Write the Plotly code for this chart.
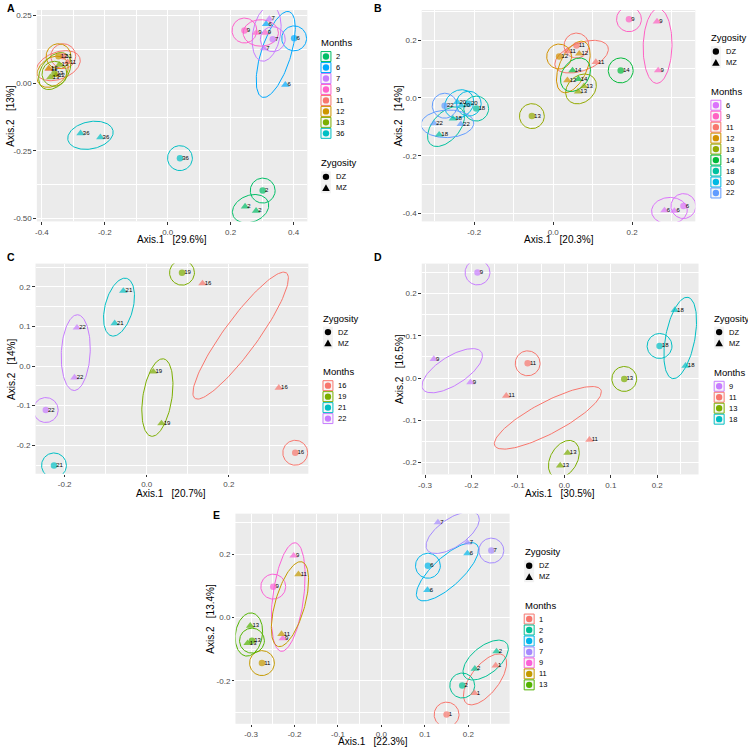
import numpy as np
import plotly.graph_objects as go

W, H = 748, 750
FONT = "Liberation Sans, Arial, sans-serif"

# ---------------- data ----------------
ZYG3 = ["DZ", "MZ", "MZ"]

# Panel A
A_month = ["2"]*3 + ["6"]*3 + ["7"]*3 + ["9"]*3 + ["11"]*3 + ["12"]*3 + ["13"]*3 + ["36"]*3
A_zyg = ZYG3 * 8
A_x = [0.302, 0.246, 0.281,   0.402, 0.313, 0.374,   0.334, 0.323, 0.306,   0.244, 0.281, 0.311,
       -0.332, -0.318, -0.378, -0.347, -0.378, -0.355, -0.360, -0.373, -0.345, 0.039, -0.277, -0.214]
A_y = [-0.397, -0.456, -0.472, 0.166, 0.219, -0.006, 0.163, 0.238, 0.129, 0.195, 0.186, 0.186,
       0.100, 0.078, 0.052,    0.100, 0.055, 0.030,    0.035, 0.022, 0.068,    -0.277, -0.185, -0.200]
A_levels = ["2", "6", "7", "9", "11", "12", "13", "36"]
A_colors = ["#00BE67", "#00A9FF", "#C77CFF", "#FF61CC", "#F8766D", "#CD9600", "#7CAE00", "#00BFC4"]

# Panel B
B_month = ["6"]*3 + ["9"]*3 + ["11"]*3 + ["12"]*3 + ["13"]*3 + ["14"]*3 + ["18"]*3 + ["20"]*3 + ["22"]*3
B_zyg = ZYG3 * 9
B_x = [0.330, 0.282, 0.307,   0.192, 0.263, 0.266,   0.059, 0.036, 0.108,   0.015, 0.066, 0.036,
       -0.054, 0.078, 0.063,  0.171, 0.049, 0.064,   -0.195, -0.254, -0.289, -0.214, -0.243, -0.233,
       -0.275, -0.302, -0.234]
B_y = [-0.374, -0.389, -0.391, 0.272, 0.264, 0.095,  0.181, 0.161, 0.124,   0.143, 0.153, 0.061,
       -0.063, 0.040, 0.022,   0.095, 0.095, 0.065,   -0.037, -0.072, -0.127, -0.020, -0.015, -0.027,
       -0.027, -0.088, -0.091]
B_levels = ["6", "9", "11", "12", "13", "14", "18", "20", "22"]
B_colors = ["#DB72FB", "#FF61C3", "#F8766D", "#D39200", "#93AA00", "#00BA38", "#00C19F", "#00B9E3", "#619CFF"]

# Panel C
C_month = ["16"]*3 + ["19"]*3 + ["21"]*3 + ["22"]*3
C_zyg = ZYG3 * 4
C_x = [0.362, 0.136, 0.322,   0.086, 0.016, 0.036,   -0.226, -0.057, -0.078,  -0.246, -0.170, -0.176]
C_y = [-0.219, 0.209, -0.055, 0.236, -0.014, -0.145, -0.251, 0.190, 0.108,   -0.111, 0.097, -0.029]
C_levels = ["16", "19", "21", "22"]
C_colors = ["#F8766D", "#7CAE00", "#00BFC4", "#C77CFF"]

# Panel D
D_month = ["9"]*3 + ["11"]*3 + ["13"]*3 + ["18"]*3
D_zyg = ZYG3 * 4
D_x = [-0.187, -0.281, -0.202, -0.079, -0.125, 0.054,  0.129, 0.007, -0.009,   0.205, 0.238, 0.261]
D_y = [0.250, 0.045, -0.010,   0.035, -0.042, -0.146,  -0.002, -0.177, -0.207, 0.076, 0.161, 0.029]
D_levels = ["9", "11", "13", "18"]
D_colors = ["#C77CFF", "#F8766D", "#7CAE00", "#00BFC4"]

# Panel E
E_month = ["1"]*3 + ["2"]*3 + ["6"]*3 + ["7"]*3 + ["9"]*3 + ["11"]*3 + ["13"]*3
E_zyg = ZYG3 * 7
E_x = [0.150, 0.263, 0.214,   0.186, 0.265, 0.215,   0.107, 0.198, 0.106,   0.253, 0.130, 0.198,
       -0.249, -0.202, -0.227, -0.275, -0.191, -0.230, -0.298, -0.302, -0.308]
E_y = [-0.307, -0.152, -0.239, -0.215, -0.107, -0.162, 0.164, 0.203, 0.087,  0.212, 0.301, 0.237,
       0.098, 0.196, -0.066,   -0.144, 0.137, -0.052,  -0.073, -0.026, -0.081]
E_levels = ["1", "2", "6", "7", "9", "11", "13"]
E_colors = ["#F8766D", "#00C094", "#00B6EB", "#A58AFF", "#FB61D7", "#C49A00", "#53B400"]

# tick labels
A_xt = [-0.4, -0.2, 0.0, 0.2, 0.4];  A_xl = ["-0.4", "-0.2", "0.0", "0.2", "0.4"]
A_yt = [0.25, 0.0, -0.25, -0.5];     A_yl = ["0.25", "0.00", "-0.25", "-0.50"]
B_xt = [-0.2, 0.0, 0.2];             B_xl = ["-0.2", "0.0", "0.2"]
B_yt = [0.2, 0.0, -0.2, -0.4];       B_yl = ["0.2", "0.0", "-0.2", "-0.4"]
C_xt = [-0.2, 0.0, 0.2];             C_xl = ["-0.2", "0.0", "0.2"]
C_yt = [0.2, 0.1, 0.0, -0.1, -0.2];  C_yl = ["0.2", "0.1", "0.0", "-0.1", "-0.2"]
D_xt = [-0.3, -0.2, -0.1, 0.0, 0.1, 0.2]; D_xl = ["-0.3", "-0.2", "-0.1", "0.0", "0.1", "0.2"]
D_yt = [0.2, 0.1, 0.0, -0.1, -0.2];  D_yl = ["0.2", "0.1", "0.0", "-0.1", "-0.2"]
E_xt = [-0.3, -0.2, -0.1, 0.0, 0.1, 0.2]; E_xl = ["-0.3", "-0.2", "-0.1", "0.0", "0.1", "0.2"]
E_yt = [0.2, 0.0, -0.2];             E_yl = ["0.2", "0.0", "-0.2"]

A_var = ["29.6%", "13%"]
B_var = ["20.3%", "14%"]
C_var = ["20.7%", "14%"]
D_var = ["30.5%", "16.5%"]
E_var = ["22.3%", "13.4%"]

# ---------------- layout of panels (pixels) ----------------
panels = [
    dict(tag="A", month=A_month, zyg=A_zyg, x=A_x, y=A_y, levels=A_levels, colors=A_colors,
         box=(33, 305, 10, 222), xr=(-0.416, 0.444), yr=(-0.511, 0.271),
         xt=A_xt, xl=A_xl, yt=A_yt, yl=A_yl, var=A_var,
         letter=(1, 8), xtitle=(169, 240.5), ytitle=(7, 116),
         leg_x=318, order=[("Months", 42.7), ("Zygosity", 163.3)]),
    dict(tag="B", month=B_month, zyg=B_zyg, x=B_x, y=B_y, levels=B_levels, colors=B_colors,
         box=(420, 695, 10, 222), xr=(-0.333, 0.360), yr=(-0.427, 0.304),
         xt=B_xt, xl=B_xl, yt=B_yt, yl=B_yl, var=B_var,
         letter=(370, 8), xtitle=(558, 240.5), ytitle=(397, 116),
         leg_x=710, order=[("Zygosity", 37.7), ("Months", 91.5)]),
    dict(tag="C", month=C_month, zyg=C_zyg, x=C_x, y=C_y, levels=C_levels, colors=C_colors,
         box=(31.7, 306, 264.3, 475), xr=(-0.271, 0.394), yr=(-0.272, 0.259),
         xt=C_xt, xl=C_xl, yt=C_yt, yl=C_yl, var=C_var,
         letter=(1, 258), xtitle=(168, 494.5), ytitle=(7, 370),
         leg_x=320, order=[("Zygosity", 319), ("Months", 372.7)]),
    dict(tag="D", month=D_month, zyg=D_zyg, x=D_x, y=D_y, levels=D_levels, colors=D_colors,
         box=(420, 698.3, 264.3, 475.7), xr=(-0.307, 0.289), yr=(-0.228, 0.271),
         xt=D_xt, xl=D_xl, yt=D_yt, yl=D_yl, var=D_var,
         letter=(370, 258), xtitle=(559, 494.5), ytitle=(397, 370),
         leg_x=713.3, order=[("Zygosity", 319), ("Months", 373.3)]),
    dict(tag="E", month=E_month, zyg=E_zyg, x=E_x, y=E_y, levels=E_levels, colors=E_colors,
         box=(232.7, 508.3, 515, 725.7), xr=(-0.336, 0.295), yr=(-0.336, 0.329),
         xt=E_xt, xl=E_xl, yt=E_yt, yl=E_yl, var=E_var,
         letter=(208, 516), xtitle=(370.5, 743.5), ytitle=(207.5, 620),
         leg_x=522.3, order=[("Zygosity", 553.3), ("Months", 606.7)]),
]


def px(x):
    return x / W


def py(y):
    return 1 - y / H


def minor_vals(ticks, rng):
    t = sorted(ticks)
    step = t[1] - t[0]
    cands = [t[0] - step / 2] + [(a + b) / 2 for a, b in zip(t[:-1], t[1:])] + [t[-1] + step / 2]
    return [round(v, 4) for v in cands if rng[0] <= v <= rng[1]]


def outline(xs, ys, box, xr, yr):
    sx = (box[1] - box[0]) / (xr[1] - xr[0])
    sy = (box[3] - box[2]) / (yr[1] - yr[0])
    X = np.asarray(xs) * sx
    Y = np.asarray(ys) * sy
    t = np.linspace(0, 2 * np.pi, 120)
    cx, cy = X.mean(), Y.mean()
    if len(X) == 1:
        a = b = 12.5
        ux, uy = 1.0, 0.0
    else:
        dx, dy = abs(X[1] - X[0]), abs(Y[1] - Y[0])
        L = float(np.hypot(dx, dy))
        half = L / 2
        ux, uy = dx / L, dy / L
        a = half + 13
        b = 13 + 0.06 * half
    ex = cx + a * np.cos(t) * ux - b * np.sin(t) * uy
    ey = cy + a * np.cos(t) * uy + b * np.sin(t) * ux
    return ex / sx, ey / sy


fig = go.Figure()
shapes = []
annots = []
layout_axes = {}

for i, p in enumerate(panels):
    n = i + 1
    xa = "x" if n == 1 else f"x{n}"
    ya = "y" if n == 1 else f"y{n}"
    xkey = "xaxis" if n == 1 else f"xaxis{n}"
    ykey = "yaxis" if n == 1 else f"yaxis{n}"
    l, r, t, b = p["box"]
    common = dict(showgrid=True, gridcolor="white", gridwidth=1.1, zeroline=False,
                  ticks="outside", ticklen=2.5, tickwidth=0.8, tickcolor="#333333",
                  tickfont=dict(size=8, color="#4D4D4D", family=FONT),
                  showline=False, tickmode="array")
    layout_axes[xkey] = dict(common, domain=[px(l), px(r)], range=list(p["xr"]), anchor=ya,
                             tickvals=p["xt"], ticktext=p["xl"],
                             minor=dict(tickvals=minor_vals(p["xt"], p["xr"]), showgrid=True,
                                        gridcolor="white", gridwidth=0.5, ticks=""))
    layout_axes[ykey] = dict(common, domain=[py(b), py(t)], range=list(p["yr"]), anchor=xa,
                             tickvals=p["yt"], ticktext=p["yl"],
                             minor=dict(tickvals=minor_vals(p["yt"], p["yr"]), showgrid=True,
                                        gridcolor="white", gridwidth=0.5, ticks=""))

    cmap = dict(zip(p["levels"], p["colors"]))
    months = np.array(p["month"])
    zyg = np.array(p["zyg"])
    X = np.array(p["x"])
    Y = np.array(p["y"])

    # outlines (by month x zygosity group)
    for lev in p["levels"]:
        for z in ["DZ", "MZ"]:
            m = (months == lev) & (zyg == z)
            if m.sum() == 0:
                continue
            ex, ey = outline(X[m], Y[m], p["box"], p["xr"], p["yr"])
            fig.add_trace(go.Scatter(x=ex, y=ey, mode="lines", xaxis=xa, yaxis=ya,
                                     line=dict(color=cmap[lev], width=1),
                                     hoverinfo="skip", showlegend=False))
    # points
    for lev in p["levels"]:
        m = months == lev
        syms = ["circle" if z == "DZ" else "triangle-up" for z in zyg[m]]
        fig.add_trace(go.Scatter(x=X[m], y=Y[m], mode="markers", xaxis=xa, yaxis=ya,
                                 marker=dict(color=cmap[lev], size=[6.5 if s == "circle" else 7.5 for s in syms],
                                             symbol=syms, line=dict(width=0)),
                                 showlegend=False, name=p["tag"] + lev))
    # point labels (month), placed just right of each point
    fig.add_trace(go.Scatter(x=X, y=Y, mode="markers+text", xaxis=xa, yaxis=ya,
                             marker=dict(size=2, color="rgba(0,0,0,0)"),
                             text=list(months), textposition="middle right",
                             textfont=dict(size=6, color="black", family=FONT),
                             hoverinfo="skip", showlegend=False))

    # panel letter
    annots.append(dict(text=f"<b>{p['tag']}</b>", x=px(p["letter"][0]), y=py(p["letter"][1]),
                       xref="paper", yref="paper", xanchor="left", yanchor="middle",
                       showarrow=False, font=dict(size=10.5, color="black", family=FONT)))
    # axis titles
    annots.append(dict(text="Axis.1\u00a0\u00a0\u00a0[" + p["var"][0] + "]",
                       x=px(p["xtitle"][0]), y=py(p["xtitle"][1]),
                       xref="paper", yref="paper", xanchor="center", yanchor="middle",
                       showarrow=False, font=dict(size=10, color="black", family=FONT)))
    annots.append(dict(text="Axis.2\u00a0\u00a0\u00a0[" + p["var"][1] + "]",
                       x=px(p["ytitle"][0]), y=py(p["ytitle"][1]), textangle=-90,
                       xref="paper", yref="paper", xanchor="center", yanchor="middle",
                       showarrow=False, font=dict(size=10, color="black", family=FONT)))

    # legends
    lx = p["leg_x"]
    kx = lx + 5.7
    for title, ty in p["order"]:
        annots.append(dict(text=title, x=px(lx - 1), y=py(ty), xref="paper", yref="paper",
                           xanchor="left", yanchor="middle", showarrow=False,
                           font=dict(size=9.5, color="black", family=FONT)))
        if title == "Months":
            for j, (lev, col) in enumerate(zip(p["levels"], p["colors"])):
                cy = ty + 14 + 11 * j
                shapes.append(dict(type="rect", xref="paper", yref="paper",
                                   x0=px(kx - 5), x1=px(kx + 5), y0=py(cy + 5), y1=py(cy - 5),
                                   line=dict(color=col, width=1), fillcolor="#F7F7F7"))
                shapes.append(dict(type="circle", xref="paper", yref="paper",
                                   x0=px(kx - 3.2), x1=px(kx + 3.2), y0=py(cy + 3.2), y1=py(cy - 3.2),
                                   line=dict(width=0), fillcolor=col))
                annots.append(dict(text=lev, x=px(lx + 14), y=py(cy), xref="paper", yref="paper",
                                   xanchor="left", yanchor="middle", showarrow=False,
                                   font=dict(size=7.5, color="black", family=FONT)))
        else:
            for j, z in enumerate(["DZ", "MZ"]):
                cy = ty + 14 + 11 * j
                shapes.append(dict(type="rect", xref="paper", yref="paper",
                                   x0=px(kx - 5), x1=px(kx + 5), y0=py(cy + 5.5), y1=py(cy - 5.5),
                                   line=dict(width=0), fillcolor="#F2F2F2"))
                if z == "DZ":
                    shapes.append(dict(type="circle", xref="paper", yref="paper",
                                       x0=px(kx - 3.2), x1=px(kx + 3.2), y0=py(cy + 3.2), y1=py(cy - 3.2),
                                       line=dict(width=0), fillcolor="black"))
                else:
                    path = (f"M {px(kx - 3.8)},{py(cy + 3.2)} L {px(kx + 3.8)},{py(cy + 3.2)} "
                            f"L {px(kx)},{py(cy - 3.6)} Z")
                    shapes.append(dict(type="path", xref="paper", yref="paper", path=path,
                                       line=dict(width=0), fillcolor="black"))
                annots.append(dict(text=z, x=px(lx + 14), y=py(cy), xref="paper", yref="paper",
                                   xanchor="left", yanchor="middle", showarrow=False,
                                   font=dict(size=7.5, color="black", family=FONT)))

fig.update_layout(
    width=W, height=H, autosize=False,
    margin=dict(l=0, r=0, t=0, b=0),
    paper_bgcolor="white", plot_bgcolor="#EBEBEB",
    showlegend=False, font=dict(family=FONT),
    shapes=shapes, annotations=annots,
    **layout_axes,
)

fig.write_html("out.html", config={"displayModeBar": False},
               post_script="document.body.style.margin='0';document.body.style.overflow='hidden';")
